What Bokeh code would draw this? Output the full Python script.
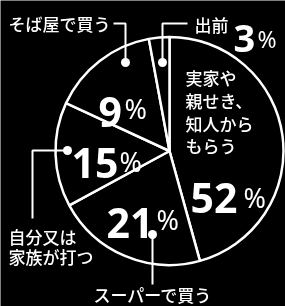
import math
from bokeh.plotting import figure
from bokeh.models import Range1d, ColumnDataSource
from bokeh.core.properties import value
from bokeh.embed import file_html
from bokeh.resources import INLINE

# ---- data (clockwise from 12 o'clock) ----
categories = ["実家や親せき、知人からもらう", "スーパーで買う", "自分又は家族が打つ", "そば屋で買う", "出前"]
pct_labels = [52, 21, 15, 9, 3]
# slice sizes as drawn in the reference picture (in %)
drawn_share = [45.7, 21.4, 14.8, 15.2, 2.9]

W, H = 285, 306
JP = "Noto Sans CJK JP Medium"
NUM = "Noto Sans"

def Y(y):
    return H - y

p = figure(width=W, height=H, output_backend="svg", toolbar_location=None,
           x_range=Range1d(0, W), y_range=Range1d(0, H), min_border=0,
           styles={"position": "fixed", "left": "0px", "top": "0px"})
p.axis.visible = False
p.grid.visible = False
p.background_fill_color = "black"
p.border_fill_color = "black"
p.outline_line_color = None

# ---- pie ----
cx, cy, r = 169, 150.5, 114
total = sum(drawn_share)
starts, ends = [], []
acc = 0.0
for s in drawn_share:
    t1 = acc / total * 2 * math.pi
    acc += s
    t2 = acc / total * 2 * math.pi
    # clockwise-from-top -> bokeh anticlockwise-from-x
    starts.append(math.pi / 2 - t2)
    ends.append(math.pi / 2 - t1)
src = ColumnDataSource(dict(cat=categories, start=starts, end=ends))
p.wedge(x=cx, y=Y(cy), radius=r, start_angle="start", end_angle="end",
        direction="anticlock", source=src, fill_color="black",
        line_color="white", line_width=2.5)

# ---- leader lines ----
leaders_x = [[113, 125, 125], [187, 162, 162], [67, 32, 32], [152, 152]]
leaders_y = [[23, 23, 62], [23, 23, 62], [150, 150, 218], [235, 284]]
p.multi_line(xs=leaders_x, ys=[[Y(v) for v in ys] for ys in leaders_y],
             line_color="white", line_width=2)
dots_x = [125, 162, 67, 152]
dots_y = [62, 62, 150, 234]
p.scatter(x=dots_x, y=[Y(v) for v in dots_y], size=9, fill_color="white",
          line_color=None)

# ---- category texts ----
def jp(x, y, t, size="17px"):
    p.text(x=[x], y=[Y(y)], text=[t], text_color="white",
           text_font=value(JP), text_font_size=size,
           text_align="left", text_baseline="middle")

jp(8, 23, "そば屋で買う")
jp(194, 23.5, "出前")
for i, line in enumerate(["実家や", "親せき、", "知人から", "もらう"]):
    jp(185, 77 + i * 22.8, line)
jp(8, 236, "自分又は")
jp(8, 256, "家族が打つ")
jp(93, 294, "スーパーで買う")

# ---- percentage texts ----
def num(x, y, n, size):
    p.text(x=[x], y=[Y(y)], text=[str(n)], text_color="white",
           text_font=value(NUM), text_font_style="bold", text_font_size=size,
           text_align="left", text_baseline="alphabetic")

def pc(x, y, size):
    p.text(x=[x], y=[Y(y)], text=["%"], text_color="white",
           text_font=value(NUM), text_font_size=size,
           text_align="left", text_baseline="alphabetic")

# 52%
num(190, 197, pct_labels[0], "41px"); pc(243, 197, "27px")
# 21%
num(106, 222, pct_labels[1], "41px"); pc(156, 219, "27px")
# 15%
num(71, 162, pct_labels[2], "41px"); pc(119, 161, "27px")
# 9%
num(98, 111, pct_labels[3], "41px"); pc(124, 108, "27px")
# 3%
num(233, 38, pct_labels[4], "38px"); pc(257, 38, "23px")

open("out.html", "w").write(file_html(p, INLINE))
